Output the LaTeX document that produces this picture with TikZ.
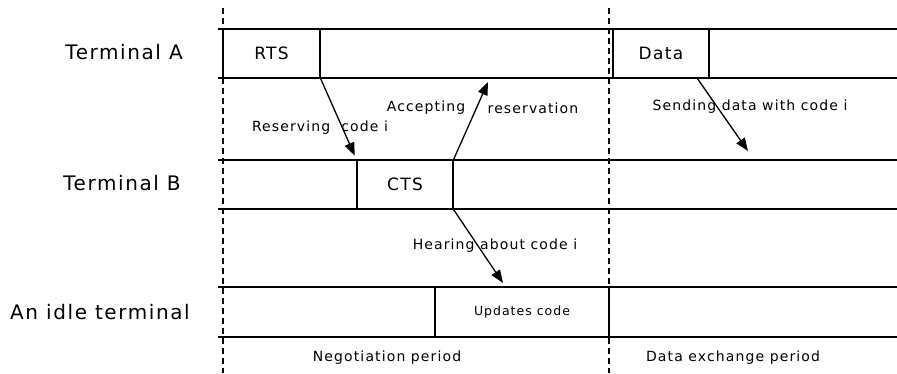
\documentclass[tikz,border=0pt]{standalone}
\usepackage{fontspec}
\setmainfont[LetterSpace=8]{DejaVu Sans}
\usetikzlibrary{arrows.meta,calc}
\tikzset{
  row/.style={line width=1.3pt},
  sep/.style={line width=1.2pt,dash pattern=on 6pt off 4pt},
  cell/.style={draw,line width=1.3pt,inner sep=0pt,minimum height=49pt,fill=white},
  cellfont/.style={font=\fontsize{17}{19}\selectfont},
  side/.style={font=\fontsize{20}{23}\selectfont,inner sep=0pt},
  note/.style={font=\fontsize{14}{16}\selectfont,inner sep=0pt},
  small/.style={font=\fontsize{12.5}{14}\selectfont,inner sep=0pt},
  msg/.style={line width=1.3pt,-{Triangle[length=13pt,width=10pt]}}
}
\begin{document}
\begin{tikzpicture}[x=1pt,y=-1pt]
\useasboundingbox (0,0) rectangle (897,374);
% dashed period separators
\coordinate (s1t) at (223,8);
\coordinate (s1b) at (223,373);
\coordinate (s2t) at (609,8);
\coordinate (s2b) at (609,373);
\draw[sep] (s1t) -- (s1b);
\draw[sep] (s2t) -- (s2b);
% row lines
\foreach \y in {29,78,160,209,287,337}{
  \draw[row] (218,\y) -- (897,\y);
}
% Terminal A row
\draw[row] (223,29) -- (223,78);
\node[cell,cellfont,minimum width=97pt] (rts) at (271.5,53.5) {RTS};
\node[cell,cellfont,minimum width=96pt] (data) at (661,53.5) {Data};
% Terminal B row
\node[cell,cellfont,minimum width=96pt] (cts) at (405,184.5) {CTS};
% idle row
\node[cell,small,minimum width=174pt,minimum height=50pt] (upd) at (522,312) {Updates code};
% side labels
\node[side] (ta) at (124,52) {Terminal A};
\node[side] (tb) at (122,183) {Terminal B};
\node[side] (ti) at (100,312) {An idle terminal};
% annotations
\node[note] (acc) at (426,108) {Accepting};
\node[note] (res) at (533,108) {reservation};
\node[note] (rsv) at (320,128) {Reserving\ \ code i};
\node[note] (snd) at (750,107) {Sending data with code i};
\node[note] (hear) at (495,246) {Hearing about code i};
\node[note] (neg) at (387,358) {Negotiation period};
\node[note] (dex) at (733,358) {Data exchange period};
% arrows
\coordinate (accend) at (488,82);
\coordinate (dstart) at (697,78);
\coordinate (dend) at (748,151);
\coordinate (hend) at (503,283);
\draw[msg,shorten >=4pt] (rts.south east) -- (cts.north west);
\draw[msg] (cts.north east) -- (accend);
\draw[msg] (dstart) -- (dend);
\draw[msg] (cts.south east) -- (hend);
\end{tikzpicture}
\end{document}
